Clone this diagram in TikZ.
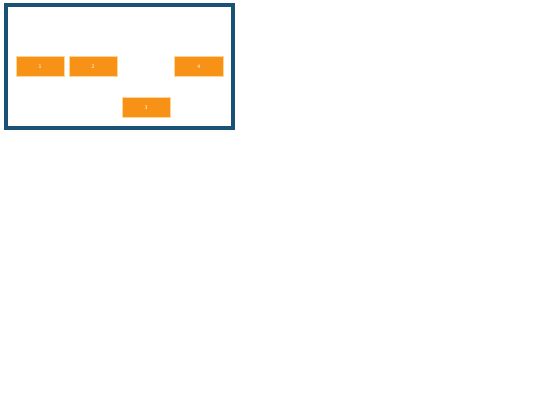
\documentclass[tikz,border=0pt]{standalone}
\usetikzlibrary{positioning}
\definecolor{boxorange}{RGB}{248,146,22}
\definecolor{boxedge}{RGB}{255,214,150}
\definecolor{frameblue}{RGB}{26,82,118}

\begin{document}
\begin{tikzpicture}[x=1pt,y=-1pt,node distance=4.4pt,
	cell/.style={fill=boxorange,draw=boxedge,line width=0.4pt,outer sep=0pt,minimum width=48.5pt,minimum height=19.3pt,inner sep=0pt,text=white,font=\sffamily\fontsize{5.5}{6.5}\selectfont}]
	\useasboundingbox (0,0) rectangle (540,405);
	\draw[frameblue,line width=4pt] (5.5,5.3) rectangle (233,128);
	\node[cell] (c1) at (40.2,66.3) {1};
	\node[cell,right=of c1] (c2) {2};
	\node[cell,below right=21.7pt and 4.4pt of c2.south east,anchor=north west] (c3) {3};
	\node[cell,above right=21.7pt and 4.4pt of c3.north east,anchor=south west] (c4) {4};
\end{tikzpicture}
\end{document}
